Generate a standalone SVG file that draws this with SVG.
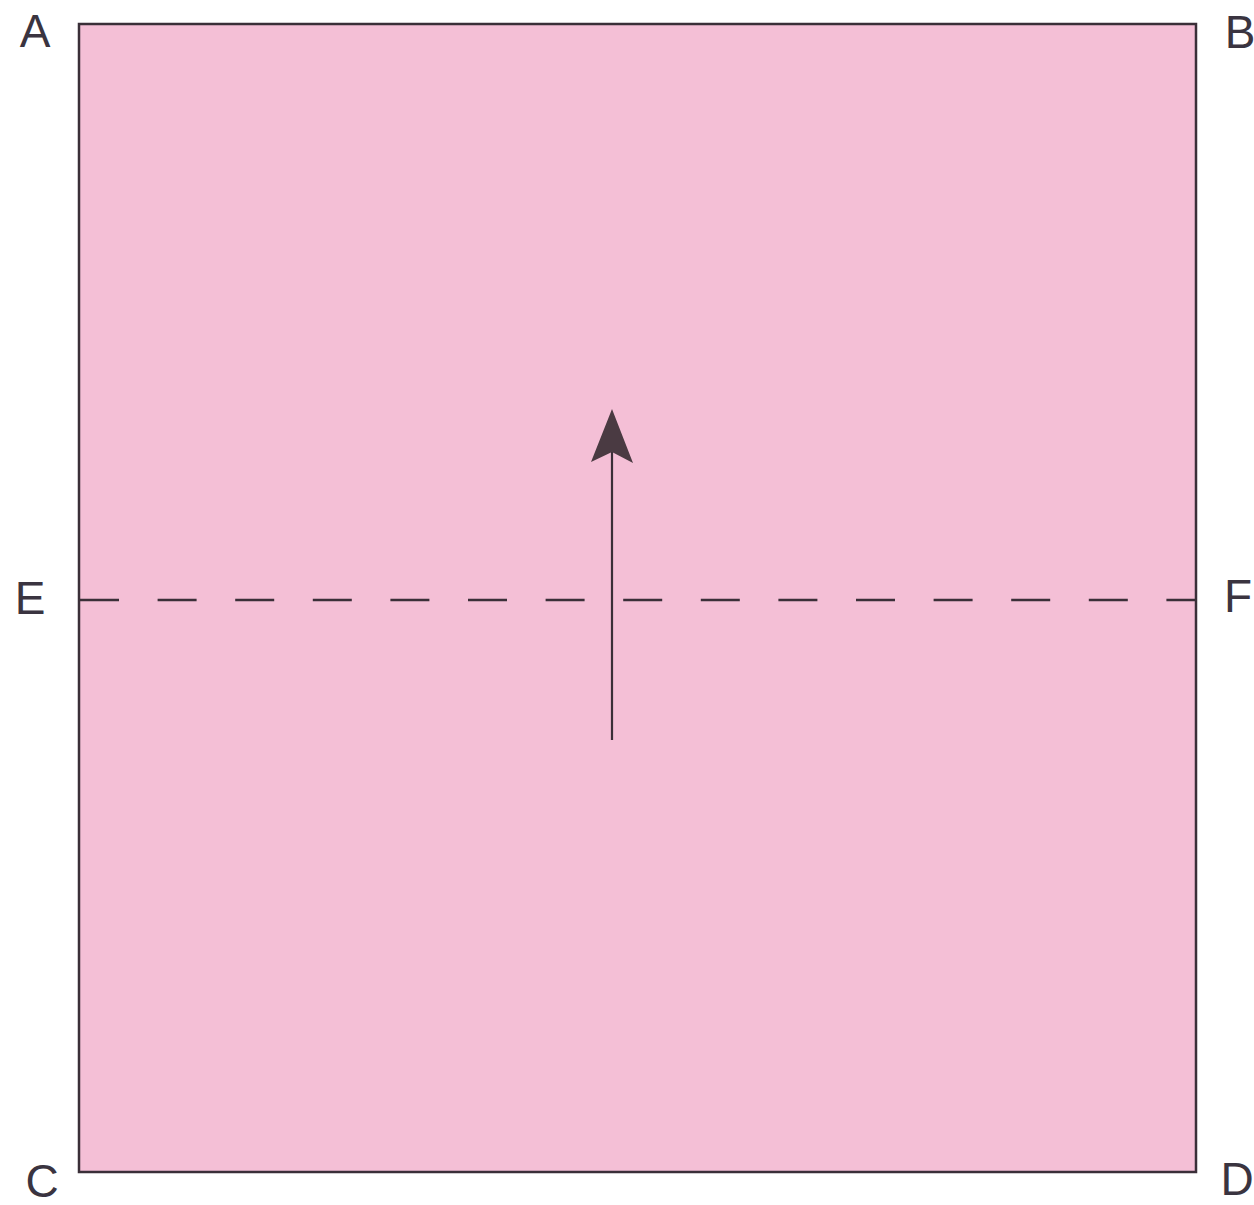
<svg xmlns="http://www.w3.org/2000/svg" width="1254" height="1205" viewBox="0 0 1254 1205">
  <style>
    .lbl { font-family: "Liberation Sans", Arial, sans-serif; font-size: 46px; fill: #3a3440; text-anchor: middle; }
  </style>
  <defs>
    <marker id="head" markerUnits="userSpaceOnUse" markerWidth="56" markerHeight="44" refX="11" refY="21" orient="auto" viewBox="0 0 56 44">
      <path d="M54 21 L1 0 L11 21 L0 42 Z" fill="#4a3a42"/>
    </marker>
  </defs>
  <rect width="1254" height="1205" fill="#ffffff"/>
  <g id="paper">
    <rect x="79" y="24" width="1117" height="1148" fill="#f4bfd6" stroke="#3a2f38" stroke-width="2.5"/>
  </g>
  <g id="connectors">
    <line id="fold-EF" x1="80" y1="600" x2="1196" y2="600" stroke="#3a2f38" stroke-width="2.5" stroke-dasharray="39 38.6"/>
    <line id="arrow" x1="612" y1="740" x2="612" y2="452" stroke="#3a2f38" stroke-width="2.2" marker-end="url(#head)"/>
  </g>
  <g id="labels">
    <text id="A" class="lbl" x="35" y="47">A</text>
    <text id="B" class="lbl" x="1240" y="48">B</text>
    <text id="E" class="lbl" x="30" y="614">E</text>
    <text id="F" class="lbl" x="1238" y="612">F</text>
    <text id="C" class="lbl" x="42" y="1197">C</text>
    <text id="D" class="lbl" x="1237" y="1195">D</text>
  </g>
</svg>
